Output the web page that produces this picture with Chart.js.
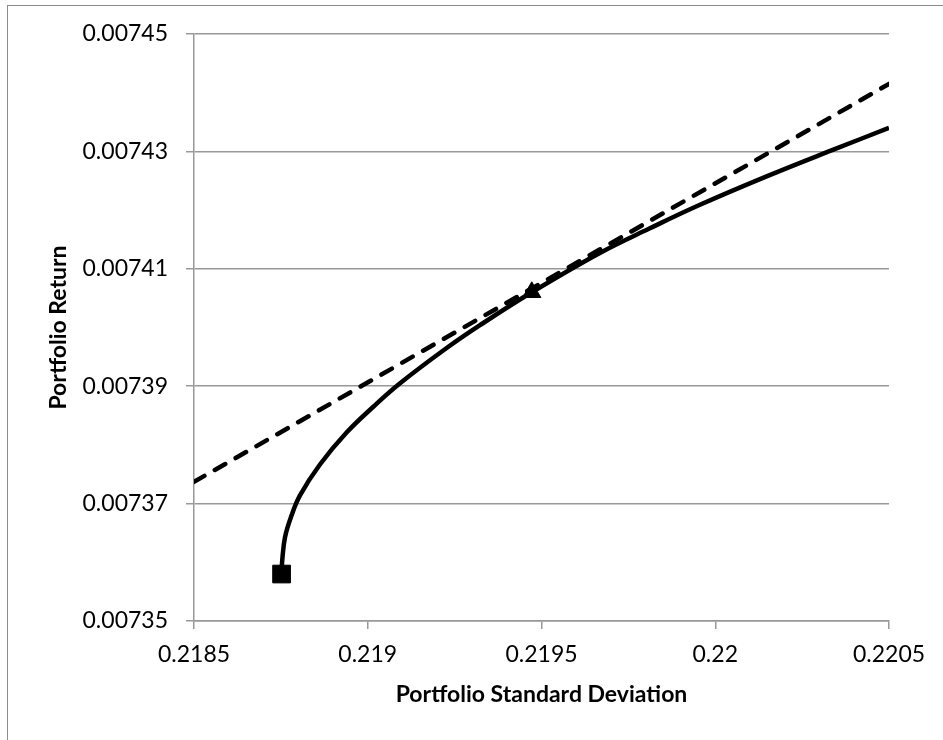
<!DOCTYPE html>
<html>
<head>
<meta charset="utf-8">
<script src="https://cdn.jsdelivr.net/npm/chart.js@4/dist/chart.umd.min.js"></script>
<style>
  body { margin: 0; background: #fff; }
  #wrap { position: relative; width: 943px; height: 740px; overflow: hidden; }
  #frame {
    position: absolute; left: 7px; top: 5px; width: 1000px; height: 800px;
    border-left: 1.5px solid #8c8c8c; border-top: 1.5px solid #8c8c8c;
  }
  canvas { position: absolute; left: 0; top: 0; }
</style>
</head>
<body>
<div id="wrap">
  <div id="frame"></div>
  <canvas id="chart" width="943" height="740"></canvas>
</div>
<script>
"use strict"

// efficient frontier
const frontierSd = [0.218752, 0.218754, 0.218762, 0.218779, 0.218805, 0.218863, 0.218939, 0.219016,
  0.219093, 0.219227, 0.219323, 0.219472, 0.219668, 0.219812, 0.219956, 0.220146, 0.22034, 0.2205];
const frontierRet = [0.007358, 0.0073604, 0.0073643, 0.0073677, 0.0073714, 0.0073767, 0.0073821, 0.0073865,
  0.0073905, 0.0073965, 0.0074004, 0.007406, 0.0074127, 0.0074169, 0.0074209, 0.0074257, 0.0074303, 0.007434];

// tangent line (dashed)
const tangentSd = [0.2185, 0.2205];
const tangentRet = [0.0073737, 0.0074415];

// markers
const minVarPoint = [0.218752, 0.007358];
const tangencyPoint = [0.219472, 0.007406];

// axes
const xTicks = [0.2185, 0.219, 0.2195, 0.22, 0.2205];
const xTickLabels = ["0.2185", "0.219", "0.2195", "0.22", "0.2205"];
const yTicks = [0.00735, 0.00737, 0.00739, 0.00741, 0.00743, 0.00745];
const yTickLabels = ["0.00735", "0.00737", "0.00739", "0.00741", "0.00743", "0.00745"];

function toPoints(xs, ys) {
  return xs.map((x, i) => ({ x: x, y: ys[i] }));
}

const gray = '#989898';
const tickFont = { family: 'Lato', size: 23 };
const titleFont = { family: 'Lato', size: 23, weight: 'bold' };

new Chart(document.getElementById('chart'), {
  type: 'scatter',
  data: {
    datasets: [
      {
        data: [{ x: tangencyPoint[0], y: tangencyPoint[1] }],
        pointStyle: 'triangle',
        pointRadius: 10.5,
        backgroundColor: '#000',
        borderColor: '#000',
        borderWidth: 1,
        order: 0
      },
      {
        data: [{ x: minVarPoint[0], y: minVarPoint[1] }],
        pointStyle: 'rect',
        pointRadius: 12.5,
        backgroundColor: '#000',
        borderColor: '#000',
        borderWidth: 1,
        order: 0
      },
      {
        data: toPoints(frontierSd, frontierRet),
        showLine: true,
        borderColor: '#000',
        borderWidth: 4.5,
        pointRadius: 0,
        tension: 0.4,
        order: 1
      },
      {
        data: toPoints(tangentSd, tangentRet),
        showLine: true,
        borderColor: '#000',
        borderWidth: 4.5,
        borderDash: [12, 12],
        borderCapStyle: 'round',
        pointRadius: 0,
        order: 2
      }
    ]
  },
  options: {
    responsive: false,
    animation: false,
    devicePixelRatio: 1,
    layout: { padding: { left: 0, top: 34, right: 54, bottom: 0 } },
    plugins: { legend: { display: false }, tooltip: { enabled: false } },
    scales: {
      x: {
        type: 'linear',
        min: 0.2185,
        max: 0.2205,
        afterBuildTicks: scale => { scale.ticks = xTicks.map(v => ({ value: v })); },
        afterFit: scale => { scale.height = 119; },
        ticks: {
          color: '#000',
          font: tickFont,
          padding: 12,
          maxRotation: 0,
          autoSkip: false,
          callback: (value, index) => xTickLabels[index]
        },
        grid: { drawOnChartArea: false, color: gray, lineWidth: 1.5, tickLength: 8 },
        border: { color: gray, width: 1.5 },
        title: {
          display: true,
          text: 'Portfolio Standard Deviation',
          color: '#000',
          font: titleFont,
          padding: { top: 0, bottom: 32 }
        }
      },
      y: {
        type: 'linear',
        min: 0.00735,
        max: 0.00745,
        afterBuildTicks: scale => { scale.ticks = yTicks.map(v => ({ value: v })); },
        afterFit: scale => { scale.width = 194; },
        ticks: {
          color: '#000',
          font: tickFont,
          padding: 18,
          autoSkip: false,
          callback: (value, index) => yTickLabels[index]
        },
        grid: { color: gray, lineWidth: 1.5, tickLength: 8 },
        border: { color: gray, width: 1.5 },
        title: {
          display: true,
          text: 'Portfolio Return',
          color: '#000',
          font: titleFont,
          padding: { top: 45, bottom: 0 }
        }
      }
    }
  }
});
</script>
</body>
</html>
